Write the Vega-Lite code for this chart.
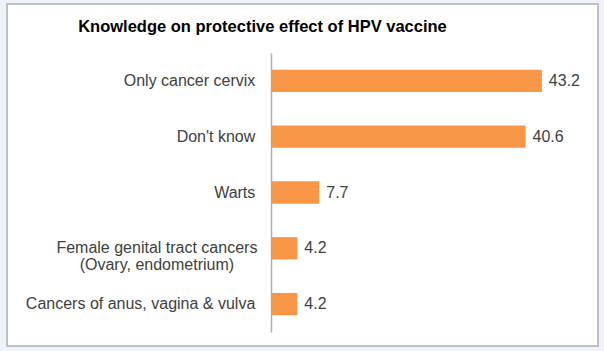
{
  "$schema": "https://vega.github.io/schema/vega-lite/v6.json",
  "width": 591,
  "height": 342,
  "autosize": {"type": "none"},
  "padding": {"left": 7, "top": 4, "right": 6, "bottom": 5},
  "background": "#eef3fb",
  "config": {
    "view": {"fill": "white", "stroke": "#c0c0c0", "strokeWidth": 2},
    "font": "Liberation Sans"
  },
  "title": {
    "text": "Knowledge on protective effect of HPV vaccine",
    "font": "Liberation Sans",
    "fontSize": 16.5,
    "fontWeight": "bold",
    "color": "#000000",
    "anchor": "middle",
    "frame": "group",
    "baseline": "alphabetic",
    "dx": -40,
    "offset": -44
  },
  "data": {
    "values": [
      {"category": "Only cancer cervix", "value": 43.2},
      {"category": "Don't know", "value": 40.6},
      {"category": "Warts", "value": 7.7},
      {"category": "Female genital tract cancers\n(Ovary, endometrium)", "value": 4.2},
      {"category": "Cancers of anus, vagina & vulva", "value": 4.2}
    ]
  },
  "encoding": {
    "y": {
      "field": "category",
      "type": "nominal",
      "sort": null,
      "scale": {"range": [49, 328], "paddingInner": 0.6, "paddingOuter": 0.3},
      "axis": {
        "title": null,
        "labels": false,
        "ticks": false,
        "grid": false,
        "domain": true,
        "domainColor": "#b0b0b0",
        "domainWidth": 1.5,
        "offset": -264
      }
    }
  },
  "layer": [
    {
      "mark": {"type": "bar", "color": "#F79646"},
      "encoding": {
        "x": {
          "field": "value",
          "type": "quantitative",
          "scale": {"domain": [0, 50], "range": [264, 577.5]},
          "axis": null
        }
      }
    },
    {
      "mark": {"type": "text", "align": "left", "baseline": "middle", "dx": 7, "fontSize": 16, "color": "#404040"},
      "encoding": {
        "x": {"field": "value", "type": "quantitative"},
        "text": {"field": "value", "type": "quantitative", "format": ".1f"}
      }
    },
    {
      "transform": [{"filter": "indexof(datum.category, '\\n') < 0"}],
      "mark": {"type": "text", "align": "right", "baseline": "middle", "fontSize": 16, "color": "#404040"},
      "encoding": {
        "x": {"datum": -2.5, "type": "quantitative"},
        "text": {"field": "category"}
      }
    },
    {
      "transform": [{"filter": "indexof(datum.category, '\\n') >= 0"}],
      "mark": {"type": "text", "align": "center", "baseline": "middle", "fontSize": 16, "color": "#404040", "lineBreak": "\n", "lineHeight": 17},
      "encoding": {
        "x": {"datum": -18.2, "type": "quantitative"},
        "text": {"field": "category"}
      }
    }
  ]
}
